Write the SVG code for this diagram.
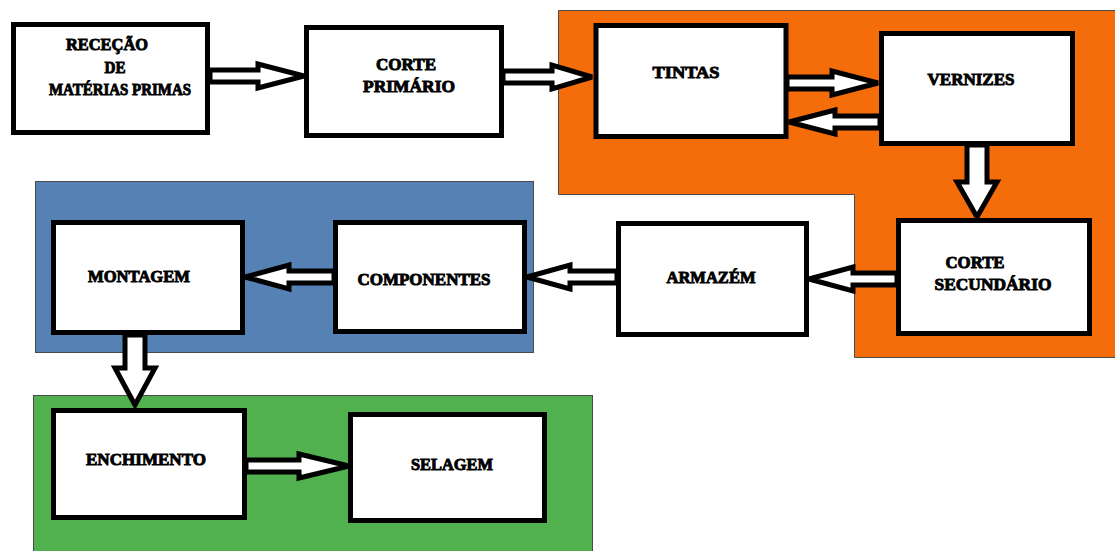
<svg xmlns="http://www.w3.org/2000/svg" width="1115" height="551" viewBox="0 0 1115 551">
<defs>
<style>
.region{stroke:#4a4a4a;stroke-width:1}
.box{fill:#fff;stroke:#000;stroke-width:5}
.arr{fill:#fff;stroke:#000;stroke-width:5;stroke-linejoin:miter;stroke-miterlimit:3}
.lbl{font-family:"Liberation Serif",serif;font-weight:bold;font-size:17px;fill:#000;stroke:#000;stroke-width:0.9;text-anchor:middle}
</style>
</defs>
<rect width="1115" height="551" fill="#fff"/>
<g id="regions">
<path class="region" d="M558.5,10.5 H1116 V357.5 H854.5 V194.5 H558.5 Z" fill="#F56C0B"/>
<rect class="region" x="35.5" y="181.5" width="498" height="171" fill="#5681B5"/>
<rect class="region" x="33.5" y="395.5" width="559" height="160" fill="#52B14F"/>
</g>
<g id="n-rececao"><rect class="box" x="13.5" y="24.5" width="194" height="108"/>
<text class="lbl" x="107" y="50" textLength="82" lengthAdjust="spacingAndGlyphs">RECEÇÃO</text>
<text class="lbl" x="115" y="73" textLength="21" lengthAdjust="spacingAndGlyphs">DE</text>
<text class="lbl" x="120" y="95" textLength="142" lengthAdjust="spacingAndGlyphs">MATÉRIAS PRIMAS</text></g>
<g id="n-corte-primario"><rect class="box" x="306.5" y="27.5" width="195" height="108"/>
<text class="lbl" x="406" y="70" textLength="60" lengthAdjust="spacingAndGlyphs">CORTE</text>
<text class="lbl" x="409" y="92" textLength="92" lengthAdjust="spacingAndGlyphs">PRIMÁRIO</text></g>
<g id="n-tintas"><rect class="box" x="596" y="25.5" width="190" height="111"/>
<text class="lbl" x="686" y="78" textLength="67" lengthAdjust="spacingAndGlyphs">TINTAS</text></g>
<g id="n-vernizes"><rect class="box" x="881.5" y="33.5" width="191" height="110"/>
<text class="lbl" x="971" y="85" textLength="87" lengthAdjust="spacingAndGlyphs">VERNIZES</text></g>
<g id="n-corte-secundario"><rect class="box" x="898.5" y="220.5" width="191" height="113"/>
<text class="lbl" x="975" y="268" textLength="59" lengthAdjust="spacingAndGlyphs">CORTE</text>
<text class="lbl" x="993" y="290" textLength="117" lengthAdjust="spacingAndGlyphs">SECUNDÁRIO</text></g>
<g id="n-armazem"><rect class="box" x="618.5" y="223.5" width="188" height="111"/>
<text class="lbl" x="711" y="283" textLength="89" lengthAdjust="spacingAndGlyphs">ARMAZÉM</text></g>
<g id="n-componentes"><rect class="box" x="335.5" y="222.5" width="189" height="109"/>
<text class="lbl" x="424" y="285" textLength="133" lengthAdjust="spacingAndGlyphs">COMPONENTES</text></g>
<g id="n-montagem"><rect class="box" x="53.5" y="222.5" width="189" height="110"/>
<text class="lbl" x="139" y="282" textLength="102" lengthAdjust="spacingAndGlyphs">MONTAGEM</text></g>
<g id="n-enchimento"><rect class="box" x="53.5" y="410.5" width="191" height="107"/>
<text class="lbl" x="146" y="465" textLength="120" lengthAdjust="spacingAndGlyphs">ENCHIMENTO</text></g>
<g id="n-selagem"><rect class="box" x="350.5" y="414.5" width="194" height="106"/>
<text class="lbl" x="452" y="470" textLength="82" lengthAdjust="spacingAndGlyphs">SELAGEM</text></g>
<g id="connectors">
<polygon class="arr" points="210,70 258,70 258,64 304,76 258,88 258,82 210,82"/>
<polygon class="arr" points="503,71 552,71 552,65 592,77 552,89 552,83 503,83"/>
<polygon class="arr" points="787,77 832,77 832,71 878,83 832,95 832,89 787,89"/>
<polygon class="arr" points="880,116 835,116 835,110 789,122 835,134 835,128 880,128"/>
<polygon class="arr" points="967,145 967,182 957,182 977,217 997,182 987,182 987,145"/>
<polygon class="arr" points="897,273 853,273 853,267 809,279 853,291 853,285 897,285"/>
<polygon class="arr" points="617,271 570,271 570,265 527,277 570,289 570,283 617,283"/>
<polygon class="arr" points="334,271 289,271 289,265 245,277 289,289 289,283 334,283"/>
<polygon class="arr" points="125,335 125,368 115,368 135,405 155,368 145,368 145,335"/>
<polygon class="arr" points="246,460 299,460 299,454 349,466 299,478 299,472 246,472"/>
</g>
</svg>
